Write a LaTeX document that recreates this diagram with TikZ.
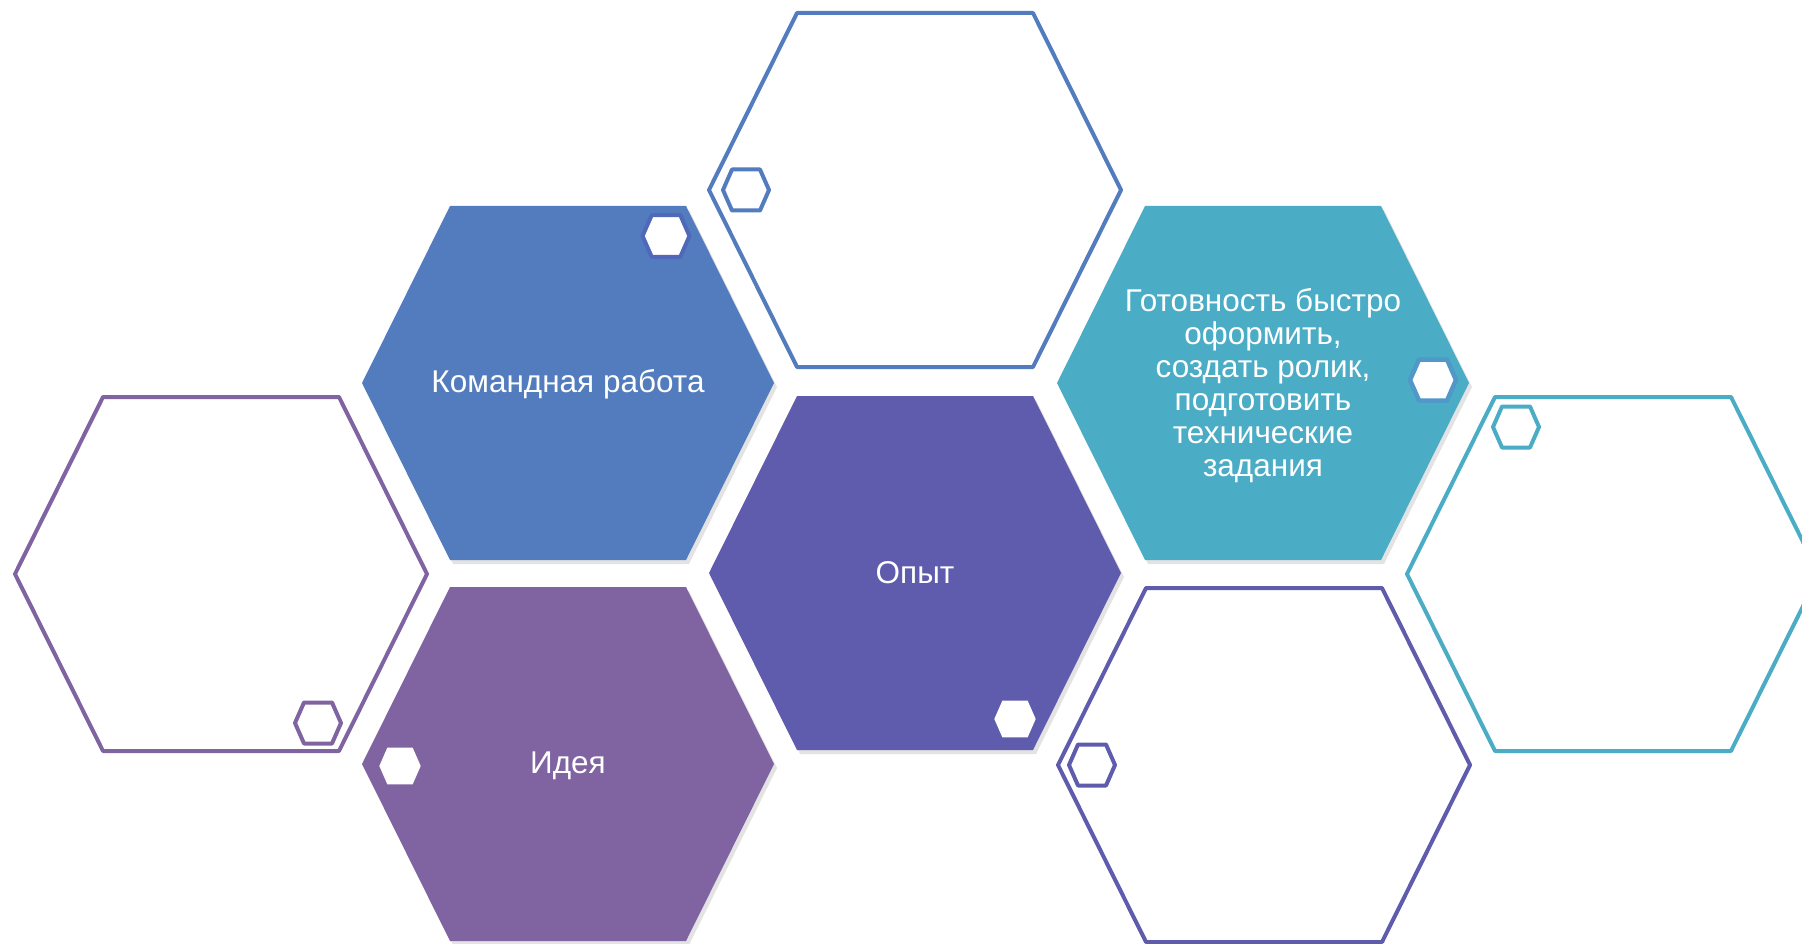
\documentclass[tikz,border=0pt]{standalone}
\usepackage{fontspec}
\setmainfont{Liberation Sans}
\usepackage{tikz}
\usetikzlibrary{shadows}
\definecolor{hexblue}{RGB}{82,124,189}
\definecolor{hexindigo}{RGB}{95,91,173}
\definecolor{hexpurple}{RGB}{128,100,162}
\definecolor{hexteal}{RGB}{75,172,198}
\definecolor{ringblue}{RGB}{80,104,185}
\definecolor{ringteal}{RGB}{79,152,200}
\newcommand{\hexcell}{++(-118,-177) -- ++(236,0) -- ++(88,177) -- ++(-88,177) -- ++(-236,0) -- ++(-88,-177) -- cycle}
\newcommand{\minicell}{++(-14,-20.5) -- ++(28,0) -- ++(9,20.5) -- ++(-9,20.5) -- ++(-28,0) -- ++(-9,-20.5) -- cycle}

\begin{document}
\begin{tikzpicture}[
  x=1pt, y=-1pt,
  cell/.style={drop shadow={shadow xshift=3pt, shadow yshift=-4pt, opacity=0.22}},
  ring/.style={line width=4pt, line join=round, fill=white},
  mini/.style={line width=4pt, line join=round, fill=white},
  celltext/.style={text=white, align=center, inner sep=0pt,
                   font=\fontsize{31.5}{33}\selectfont}
]
\clip (0,0) rectangle (1802,944);
% empty frames
\draw[ring, draw=hexblue] (915,190) \hexcell;
\draw[ring, draw=hexpurple] (221,574) \hexcell;
\draw[ring, draw=hexindigo] (1264,765) \hexcell;
\draw[ring, draw=hexteal] (1613,574) \hexcell;
% filled cells
\fill[cell, hexblue] (568,383) \hexcell;
\fill[cell, hexindigo] (915,573) \hexcell;
\fill[cell, hexpurple] (568,764) \hexcell;
\fill[cell, hexteal] (1263,383) \hexcell;
% small accents
\draw[mini, draw=hexblue] (746,190) \minicell;
\draw[mini, draw=ringblue, shift={(666,236)}, scale=1.02] (0,0) \minicell;
\draw[mini, draw=hexpurple] (318,723) \minicell;
\fill[white, shift={(400,766)}, scale=0.9] (0,0) \minicell;
\fill[white, shift={(1015,719)}, scale=0.9] (0,0) \minicell;
\draw[mini, draw=ringteal, line width=4.5pt] (1433,380) \minicell;
\draw[mini, draw=hexindigo] (1092,765) \minicell;
\draw[mini, draw=hexteal] (1516,427) \minicell;

\node[celltext] (team) at (568,384) {Командная работа};
\node[celltext] (exp) at (915,573) {Опыт};
\node[celltext] (idea) at (568,766) {Идея};
\node[celltext] (ready) at (1263,386) {Готовность быстро\\оформить,\\создать ролик,\\подготовить\\технические\\задания};
\end{tikzpicture}
\end{document}
